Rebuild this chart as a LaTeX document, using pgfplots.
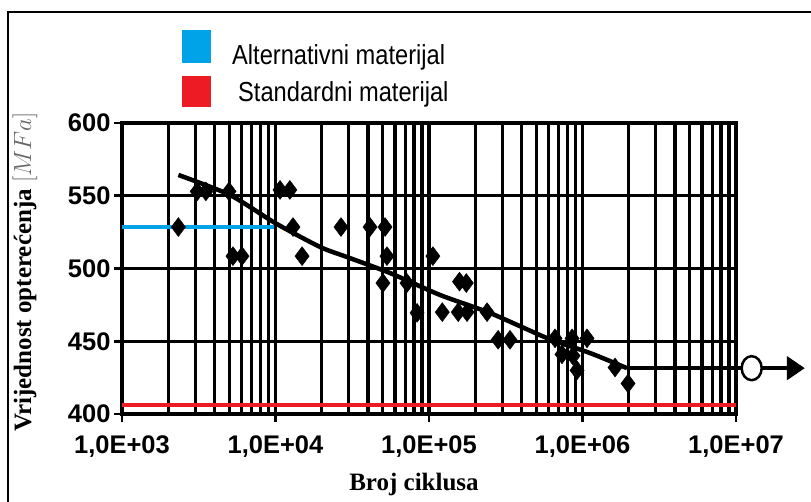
\documentclass[border=0pt]{standalone}
\usepackage{fontspec}
\setmainfont{Liberation Serif}
\newfontfamily\arialfont{Liberation Sans}
\newfontfamily\narrowfont[FakeStretch=0.86]{Liberation Sans}
\usepackage{pgfplots}
\pgfplotsset{compat=1.18}
\usetikzlibrary{arrows.meta}
\definecolor{altblue}{RGB}{0,162,232}
\definecolor{stdred}{RGB}{237,28,36}
\begin{document}
\begin{tikzpicture}
\useasboundingbox (0pt,0pt) rectangle (811pt,-502pt);
\draw[line width=1.5pt] (8pt,-502pt) -- (8pt,-12pt) -- (811pt,-12pt);
% legend
\fill[altblue] (182pt,-30pt) rectangle (211pt,-63pt);
\fill[stdred] (182pt,-76pt) rectangle (211pt,-107pt);
\node[anchor=base west, inner sep=0pt] at (232pt,-65pt) {\narrowfont\fontsize{27.5}{27.5}\selectfont Alternativni materijal};
\node[anchor=base west, inner sep=0pt] at (238pt,-102pt) {\narrowfont\fontsize{27.5}{27.5}\selectfont Standardni materijal};
\begin{axis}[
  at={(122pt,-414pt)}, anchor=south west,
  scale only axis, width=614pt, height=291pt,
  xmode=log, log basis x=10,
  xmin=1e3, xmax=1e7, ymin=400, ymax=600,
  xtick={1e3,1e4,1e5,1e6,1e7},
  xticklabels={{1,0E+03},{1,0E+04},{1,0E+05},{1,0E+06},{1,0E+07}},
  minor xtick={2e3,3e3,4e3,5e3,6e3,7e3,8e3,9e3,2e4,3e4,4e4,5e4,6e4,7e4,8e4,9e4,2e5,3e5,4e5,5e5,6e5,7e5,8e5,9e5,2e6,3e6,4e6,5e6,6e6,7e6,8e6,9e6},
  ytick={400,450,500,550,600},
  yticklabels={400,450,500,550,600},
  xmajorgrids=true, xminorgrids=true, ymajorgrids=true,
  major grid style={black, line width=3.3pt},
  minor grid style={black, line width=3.3pt},
  axis line style={black, line width=3.3pt},
  tick align=outside, major tick length=8pt, minor tick length=0pt,
  tick style={black, line width=2.8pt},
  xtick pos=bottom, ytick pos=left,
  ticklabel style={font=\arialfont\bfseries\fontsize{25.5}{25.5}\selectfont},
  xticklabel style={yshift=-10pt},
  clip=false,
]
\addplot[altblue, line width=4pt] coordinates {(1e3,528.5) (9800,528.5)};
\addplot[stdred, line width=4pt] coordinates {(1e3,406) (1e7,406)};
\addplot[black, line width=4.5pt, smooth, tension=0.4] coordinates {
(2330,564.3) (5060,550.5) (9930,531.3) (19500,514.8) (29200,507.9)
(55700,496.9) (118000,481.8) (250000,469.4) (587000,452.2)
(1120000,441.9) (1950000,431.5)};
\addplot[black, line width=4.5pt] coordinates {(1950000,431.5) (1e7,431.5)};
\addplot[black, line width=4.5pt, -{Triangle[length=18pt,width=23pt]}] coordinates {(1e7,431.5) (2.81e7,431.5)};
\addplot[only marks, mark=*, mark size=10pt, mark options={fill=white, draw=black, line width=2.5pt, yscale=1.2}] coordinates {(1.265e7,431.5)};
\addplot[only marks, mark=diamond*, mark size=9.5pt, black] coordinates {
(2330,528.5) (3090,553) (3520,553) (4980,553) (5280,508.5) (6050,508.5)
(10700,554) (12400,554) (13000,528.5) (14900,508.5) (26700,528.5)
(41300,528.5) (51700,528.5) (53200,508.5) (50100,490) (71900,490)
(106000,508.5) (83600,469.5) (122000,470) (155000,470) (177000,470)
(158000,491) (175000,490) (239000,470) (282000,451) (337000,451)
(662000,452) (735000,441) (855000,452) (868000,440) (921000,430)
(1070000,452) (1630000,432) (1980000,421)};
\end{axis}
\node[rotate=90, anchor=base] at (31pt,-272pt) {\fontsize{25}{25}\selectfont\bfseries Vrijednost opterećenja \textcolor{black!60}{$[MFa]$}};
\node[anchor=base] at (414pt,-490pt) {\fontsize{25}{25}\selectfont\bfseries Broj ciklusa};
\end{tikzpicture}
\end{document}
